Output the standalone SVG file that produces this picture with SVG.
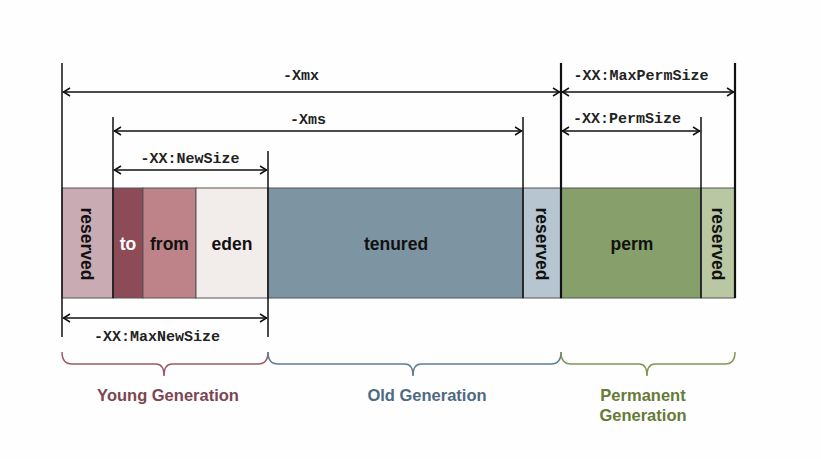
<svg xmlns="http://www.w3.org/2000/svg" width="821" height="459" viewBox="0 0 821 459">
<defs>
<marker id="ah" viewBox="-8 -5 9 10" markerWidth="9" markerHeight="10" refX="0" refY="0" orient="auto-start-reverse" markerUnits="userSpaceOnUse">
<path d="M-7,-4 L-0.5,0 L-7,4" fill="none" stroke="#111" stroke-width="1.5"/>
</marker>
<style>
.cell{stroke:#555;stroke-width:1}
.lbl{font-family:"Liberation Sans",Arial,sans-serif;font-weight:bold;font-size:17.5px;fill:#111;text-anchor:middle}
.mono{font-family:"Liberation Mono","Courier New",monospace;font-weight:bold;font-size:15px;fill:#222;text-anchor:middle}
.dim{stroke:#111;stroke-width:1.5;fill:none}
.arr{stroke:#111;stroke-width:1.5;fill:none;marker-start:url(#ah);marker-end:url(#ah)}
.gen{font-family:"Liberation Sans",Arial,sans-serif;font-weight:bold;font-size:16.5px;text-anchor:middle}
.brace{fill:none;stroke-width:1.5}
</style>
</defs>
<rect width="821" height="459" fill="#fefefe"/>

<g id="node-reserved-young"><rect class="cell" x="62" y="188" width="51" height="110" fill="#c9abb3"/><text class="lbl" transform="translate(87,244) rotate(90)" dominant-baseline="central">reserved</text></g>
<g id="node-to"><rect class="cell" x="113" y="188" width="30" height="110" fill="#8c4b56"/><text class="lbl" x="128" y="250" style="fill:#fff">to</text></g>
<g id="node-from"><rect class="cell" x="143" y="188" width="53" height="110" fill="#be8389"/><text class="lbl" x="169.5" y="250">from</text></g>
<g id="node-eden"><rect class="cell" x="196" y="188" width="72" height="110" fill="#f2ecea"/><text class="lbl" x="232" y="250">eden</text></g>
<g id="node-tenured"><rect class="cell" x="268" y="188" width="255" height="110" fill="#7d95a3"/><text class="lbl" x="396" y="250">tenured</text></g>
<g id="node-reserved-old"><rect class="cell" x="523" y="188" width="38" height="110" fill="#b6c5cf"/><text class="lbl" transform="translate(542,244) rotate(90)" dominant-baseline="central">reserved</text></g>
<g id="node-perm"><rect class="cell" x="561" y="188" width="140" height="110" fill="#87a06b"/><text class="lbl" x="632" y="250">perm</text></g>
<g id="node-reserved-perm"><rect class="cell" x="701" y="188" width="34" height="110" fill="#b9c8a2"/><text class="lbl" transform="translate(718,244) rotate(90)" dominant-baseline="central">reserved</text></g>

<g id="connectors">
<line class="dim" x1="62" y1="63" x2="62" y2="337"/>
<line class="dim" x1="113" y1="117" x2="113" y2="298"/>
<line class="dim" x1="268" y1="151" x2="268" y2="337"/>
<line class="dim" x1="523" y1="117" x2="523" y2="298"/>
<line class="dim" x1="561" y1="63" x2="561" y2="298" style="stroke-width:2.2"/>
<line class="dim" x1="701" y1="117" x2="701" y2="298"/>
<line class="dim" x1="735" y1="63" x2="735" y2="298" style="stroke-width:2.2"/>

<line class="arr" x1="63" y1="92" x2="560" y2="92"/>
<line class="arr" x1="114" y1="131" x2="522" y2="131"/>
<line class="arr" x1="114" y1="170" x2="267" y2="170"/>
<line class="arr" x1="562" y1="92" x2="734" y2="92"/>
<line class="arr" x1="562" y1="131" x2="700" y2="131"/>
<line class="arr" x1="63" y1="318" x2="267" y2="318"/>

<path class="brace" stroke="#9c5a66" d="M62,352 Q62,364 72,364 L156,364 Q164,364 164,376 Q164,364 172,364 L258,364 Q268,364 268,352"/>
<path class="brace" stroke="#5f7d93" d="M268,352 Q268,364 278,364 L405,364 Q413,364 413,376 Q413,364 421,364 L551,364 Q561,364 561,352"/>
<path class="brace" stroke="#7f9752" d="M561,352 Q561,364 571,364 L639,364 Q647,364 647,376 Q647,364 655,364 L725,364 Q735,364 735,352"/>
</g>

<g id="labels">
<text class="mono" x="301" y="80">-Xmx</text>
<text class="mono" x="308" y="124">-Xms</text>
<text class="mono" x="190" y="163">-XX:NewSize</text>
<text class="mono" x="641" y="80">-XX:MaxPermSize</text>
<text class="mono" x="627" y="123">-XX:PermSize</text>
<text class="mono" x="157" y="341">-XX:MaxNewSize</text>
<text class="gen" x="168" y="401" fill="#7b4651">Young Generation</text>
<text class="gen" x="427" y="401" fill="#4f6a80">Old Generation</text>
<text class="gen" x="643" y="401" fill="#657b38">Permanent</text>
<text class="gen" x="643" y="421" fill="#657b38">Generation</text>
</g>
</svg>
